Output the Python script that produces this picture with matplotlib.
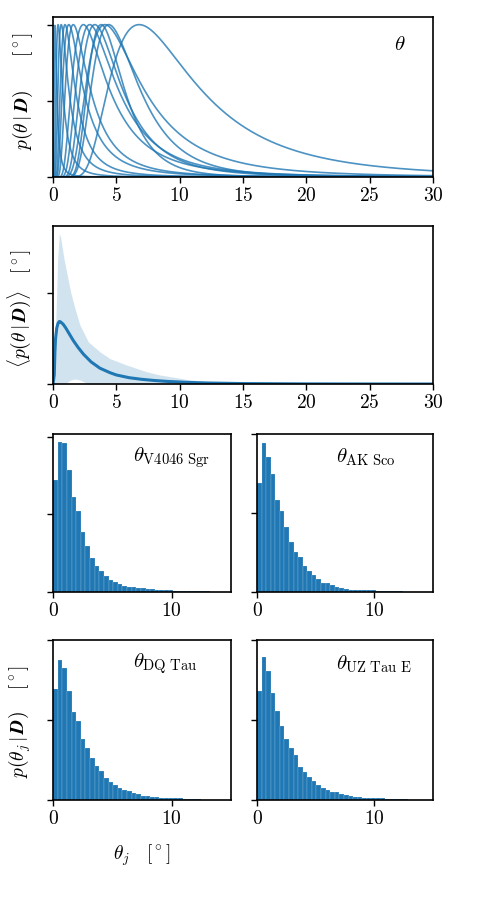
import numpy as np
import matplotlib
matplotlib.use("Agg")
import matplotlib.pyplot as plt

plt.rcParams["font.family"] = "serif"
plt.rcParams["font.serif"] = ["cmr10", "DejaVu Serif"]
plt.rcParams["mathtext.fontset"] = "cm"
plt.rcParams["axes.formatter.use_mathtext"] = True
plt.rcParams["axes.linewidth"] = 1.2
plt.rcParams["xtick.major.width"] = 1.0
plt.rcParams["ytick.major.width"] = 1.0
plt.rcParams["xtick.major.size"] = 4
plt.rcParams["ytick.major.size"] = 4

BLUE = "#1f77b4"

# top panel: per-system posteriors (mode and tail shape)
post_modes = [0.15, 0.4, 0.65, 0.95, 1.25, 1.6, 2.4, 2.9, 3.3, 3.8, 4.1, 4.4, 6.8]
post_shapes = [3.0, 3.2, 3.2, 3.5, 3.2, 3.6, 3.5, 4.0, 5.0, 8.0, 4.2, 6.4, 4.5]

# middle panel: population-averaged posterior and its band
mean_theta = [0, 0.1, 0.15, 0.2, 0.3, 0.4, 0.5, 0.6, 0.8, 1.0, 1.3, 1.6, 2.0, 2.4,
              3.0, 3.7, 4.5, 5.0, 6.0, 7.0, 8.0, 9.0, 10.5, 12, 15, 20, 25, 30]
mean_vals = [0.0, 0.1, 0.35, 0.5, 0.62, 0.67, 0.69, 0.685, 0.66, 0.62, 0.55, 0.48,
             0.40, 0.33, 0.245, 0.175, 0.125, 0.10, 0.07, 0.052, 0.039, 0.029, 0.019,
             0.012, 0.005, 0.0015, 0.0005, 0.0002]
band_theta = [0, 0.1, 0.2, 0.29, 0.37, 0.5, 0.6, 0.87, 1.13, 1.4, 1.74, 2.13, 2.79,
              3.71, 4.5, 5.8, 7.4, 8.45, 10.8, 13, 15, 20, 25, 30]
band_hi = [0.0, 0.1, 0.6, 1.0, 1.38, 1.66, 1.62, 1.38, 1.2, 1.01, 0.83, 0.65, 0.465,
           0.355, 0.28, 0.21, 0.135, 0.10, 0.045, 0.02, 0.01, 0.003, 0.001, 0.0005]
band_lo = [0, 0, 0, 0, 0, 0, 0, 0, 0.02, 0.045, 0.055, 0.045, 0.0, 0, 0,
           0, 0, 0, 0, 0, 0, 0, 0, 0]

# bottom panels: histograms of individual obliquities
bin_width = 0.39
hist_names = ["V4046\\ Sgr", "AK\\ Sco", "DQ\\ Tau", "UZ\\ Tau\\ E"]
hist_v4046 = [0.288, 0.388, 0.384, 0.314, 0.246, 0.208, 0.154, 0.118, 0.088, 0.066,
              0.054, 0.042, 0.032, 0.026, 0.020, 0.016, 0.014, 0.013, 0.011, 0.0094,
              0.0078, 0.0068, 0.0058, 0.0050, 0.0044, 0.0040, 0.0036, 0.0034, 0.0032,
              0.0030, 0.0032, 0.0036, 0.0032, 0.0028]
hist_aksco = [0.275, 0.377, 0.343, 0.298, 0.233, 0.204, 0.164, 0.127, 0.1025, 0.089,
              0.067, 0.054, 0.043, 0.033, 0.0225, 0.0225, 0.018, 0.0125, 0.009, 0.0072,
              0.0062, 0.0055, 0.0048, 0.0044, 0.0040, 0.0040, 0.0036, 0.0034, 0.0032,
              0.0034, 0.0030, 0.0028]
hist_dqtau = [0.278, 0.350, 0.329, 0.273, 0.220, 0.197, 0.153, 0.129, 0.105, 0.0845,
              0.0713, 0.055, 0.0457, 0.038, 0.030, 0.0248, 0.0225, 0.0186, 0.0147, 0.010,
              0.0093, 0.0085, 0.0066, 0.0058, 0.0050, 0.0044, 0.0040, 0.0040, 0.0036,
              0.0034, 0.0032, 0.0028]
hist_uztau = [0.2735, 0.3565, 0.3217, 0.268, 0.222, 0.185, 0.1526, 0.1304, 0.1115, 0.083,
              0.0688, 0.0569, 0.0466, 0.0387, 0.0292, 0.0245, 0.0206, 0.0206, 0.015,
              0.0134, 0.0103, 0.0079, 0.0066, 0.0058, 0.0050, 0.0046, 0.0042, 0.0038,
              0.0036, 0.0034, 0.0032, 0.0030, 0.0028]
hist_data = [hist_v4046, hist_aksco, hist_dqtau, hist_uztau]


def posterior_curve(theta, mode, shape):
    # peak-normalised inverse-gamma-like profile
    u = np.log(theta / mode)
    return np.exp(shape * (1.0 - u - np.exp(-u)))


fig = plt.figure(figsize=(4.88, 9.0), dpi=100)

ax1 = fig.add_axes([0.1086, 0.8033, 0.7787, 0.1778])
ax2 = fig.add_axes([0.1086, 0.5733, 0.7787, 0.1756])
ax3 = fig.add_axes([0.1086, 0.3422, 0.3648, 0.1756])
ax4 = fig.add_axes([0.5266, 0.3422, 0.3607, 0.1756])
ax5 = fig.add_axes([0.1086, 0.1111, 0.3648, 0.1778])
ax6 = fig.add_axes([0.5266, 0.1111, 0.3607, 0.1778])

# top panel
theta = np.linspace(0.001, 30, 1500)
for m, a in zip(post_modes, post_shapes):
    ax1.plot(theta, posterior_curve(theta, m, a), color=BLUE, lw=1.2, alpha=0.8)
ax1.set_xlim(0, 30)
ax1.set_ylim(0, 1.05)
ax1.set_yticks([0, 0.5, 1.0])
ax1.set_yticklabels([])
ax1.set_xticks([0, 5, 10, 15, 20, 25, 30])
ax1.text(0.913, 0.825, r"$\theta$", transform=ax1.transAxes, fontsize=15,
         ha="center", va="center")
ax1.set_ylabel(r"$p(\theta\,|\,\boldsymbol{D})\qquad[^\circ]$", fontsize=14)
ax1.yaxis.set_label_coords(-0.048, 0.54)

# middle panel
ax2.fill_between(band_theta, band_lo, band_hi, color=BLUE, alpha=0.2, lw=0)
ax2.plot(mean_theta, mean_vals, color=BLUE, lw=2.2)
ax2.set_xlim(0, 30)
ax2.set_ylim(0, max(band_hi) * 1.05)
ax2.set_yticks([0, 1])
ax2.set_yticklabels([])
ax2.set_xticks([0, 5, 10, 15, 20, 25, 30])
ax2.set_ylabel(r"$\langle p(\theta\,|\,\boldsymbol{D})\rangle\quad[^\circ]$", fontsize=14)
ax2.yaxis.set_label_coords(-0.052, 0.48)

# histograms
for ax, name, heights in zip([ax3, ax4, ax5, ax6], hist_names, hist_data):
    left = np.arange(len(heights)) * bin_width
    ax.bar(left, heights, width=bin_width, align="edge", color=BLUE,
           edgecolor=(1, 1, 1, 0.4), linewidth=0.3)
    ax.set_xlim(0, 15)
    ax.set_ylim(0, max(heights) * 1.05)
    ax.set_xticks([0, 10])
    ax.set_yticks([0, 0.2, 0.4])
    ax.set_yticklabels([])
    ax.text(0.45, 0.85, r"$\theta_{\mathrm{" + name + "}}$", transform=ax.transAxes,
            fontsize=15, ha="left", va="center")

ax5.set_ylabel(r"$p(\theta_j\,|\,\boldsymbol{D})\quad\;[^\circ]$", fontsize=14)
ax5.yaxis.set_label_coords(-0.115, 0.49)
ax5.set_xlabel(r"$\theta_j\quad[^\circ]$", fontsize=14, labelpad=10)

for ax in [ax1, ax2, ax3, ax4, ax5, ax6]:
    ax.tick_params(axis="both", labelsize=14, direction="out")

fig.savefig("out.png", dpi=100)
